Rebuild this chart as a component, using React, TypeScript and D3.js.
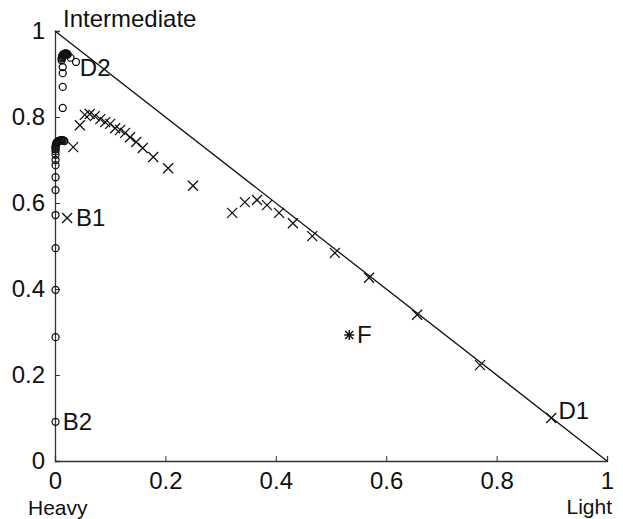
import React, { useEffect, useRef } from 'react'
import * as d3 from 'd3'

// points: [light, intermediate]
const circlePts: [number, number][] = [
  [0.001, 0.091], [0.001, 0.288], [0.001, 0.398], [0.001, 0.495], [0.001, 0.572],
  [0.001, 0.630], [0.001, 0.660], [0.001, 0.688], [0.001, 0.700], [0.001, 0.712],
  [0.001, 0.720], [0.001, 0.725], [0.001, 0.729], [0.001, 0.732], [0.002, 0.735],
  [0.002, 0.738], [0.003, 0.740], [0.004, 0.742], [0.005, 0.743], [0.006, 0.744],
  [0.008, 0.745], [0.009, 0.745], [0.011, 0.746], [0.012, 0.746], [0.014, 0.746],
  [0.016, 0.745], [0.017, 0.744],
  [0.014, 0.821], [0.014, 0.870], [0.014, 0.902], [0.014, 0.916],
  [0.012, 0.932], [0.012, 0.936], [0.013, 0.939], [0.013, 0.942], [0.014, 0.944],
  [0.015, 0.945], [0.016, 0.946], [0.017, 0.947], [0.018, 0.947], [0.019, 0.948],
  [0.020, 0.948], [0.021, 0.947], [0.022, 0.946], [0.023, 0.945],
  [0.028, 0.938], [0.038, 0.928],
]

const crossPts: [number, number][] = [
  [0.022, 0.565], [0.033, 0.730], [0.045, 0.781], [0.054, 0.805], [0.063, 0.807],
  [0.072, 0.802], [0.082, 0.795], [0.091, 0.788], [0.100, 0.784], [0.109, 0.774],
  [0.118, 0.770], [0.127, 0.763], [0.136, 0.753], [0.147, 0.742], [0.159, 0.728],
  [0.178, 0.707], [0.205, 0.681], [0.250, 0.640], [0.321, 0.577], [0.344, 0.602],
  [0.366, 0.607], [0.384, 0.595], [0.406, 0.577], [0.431, 0.553], [0.466, 0.523],
  [0.507, 0.484], [0.569, 0.426], [0.656, 0.340], [0.770, 0.223], [0.899, 0.100],
]

const starPt: [number, number] = [0.533, 0.293]

const pointLabels = ['D2', 'B1', 'B2', 'F', 'D1']
const labelPos: [number, number][] = [[0.045, 0.915], [0.038, 0.565], [0.014, 0.091], [0.547, 0.293], [0.912, 0.117]]

const tickVals = [0, 0.2, 0.4, 0.6, 0.8, 1]
const tickLabels = ['0', '0.2', '0.4', '0.6', '0.8', '1']

export default function App() {
  const ref = useRef<SVGSVGElement>(null)

  useEffect(() => {
    const width = 623
    const height = 519
    const margin = { top: 31, bottom: 58, left: 55, right: 16 }
    const font = '"Liberation Sans", Arial, sans-serif'
    const fs = 24

    const svg = d3.select(ref.current).attr('width', width).attr('height', height)
    svg.selectAll('*').remove()
    svg.append('rect').attr('width', width).attr('height', height).attr('fill', '#fff')

    const x = d3.scaleLinear().domain([0, 1]).range([margin.left, width - margin.right])
    const y = d3.scaleLinear().domain([0, 1]).range([height - margin.bottom, margin.top])

    // axes (matlab style, ticks inward)
    const gx = svg.append('g').attr('transform', `translate(0,${y(0)})`)
      .call(d3.axisBottom(x).tickValues(tickVals).tickSize(-5).tickFormat((d, i) => tickLabels[i]).tickPadding(11))
    const gy = svg.append('g').attr('transform', `translate(${x(0)},0)`)
      .call(d3.axisLeft(y).tickValues(tickVals).tickSize(-5).tickFormat((d, i) => tickLabels[i]).tickPadding(10))
    ;[gx, gy].forEach(g => {
      g.select('.domain').attr('stroke', '#333').attr('stroke-width', 1.3)
      g.selectAll('.tick line').attr('stroke', '#333')
      g.selectAll('.tick text').attr('fill', '#111').attr('font-size', fs).attr('font-family', font)
    })

    // hypotenuse
    svg.append('line')
      .attr('x1', x(0)).attr('y1', y(1)).attr('x2', x(1)).attr('y2', y(0))
      .attr('stroke', '#111').attr('stroke-width', 1.3)

    svg.append('g').selectAll('circle').data(circlePts).enter().append('circle')
      .attr('cx', d => x(d[0])).attr('cy', d => y(d[1])).attr('r', 3.5)
      .attr('fill', 'none').attr('stroke', '#111').attr('stroke-width', 1.3)

    const cs = 5
    svg.append('g').selectAll('path').data(crossPts).enter().append('path')
      .attr('d', d => {
        const px = x(d[0]), py = y(d[1])
        return `M${px - cs},${py - cs}L${px + cs},${py + cs}M${px - cs},${py + cs}L${px + cs},${py - cs}`
      })
      .attr('stroke', '#111').attr('stroke-width', 1.3).attr('fill', 'none')

    const sx = x(starPt[0]), sy = y(starPt[1])
    svg.append('path')
      .attr('d', `M${sx - 4},${sy - 4}L${sx + 4},${sy + 4}M${sx - 4},${sy + 4}L${sx + 4},${sy - 4}M${sx - 5},${sy}L${sx + 5},${sy}M${sx},${sy - 5}L${sx},${sy + 5}`)
      .attr('stroke', '#111').attr('stroke-width', 1.4)

    svg.append('g').selectAll('text').data(pointLabels).enter().append('text')
      .attr('x', (d, i) => x(labelPos[i][0])).attr('y', (d, i) => y(labelPos[i][1]))
      .attr('dy', '0.35em')
      .attr('font-size', fs).attr('font-family', font).attr('fill', '#111')
      .text(d => d)

    const axisTitle = (t: string, px: number, py: number, anchor: string, size: number) =>
      svg.append('text').attr('x', px).attr('y', py).attr('text-anchor', anchor)
        .attr('font-size', size).attr('font-family', font).attr('fill', '#111').text(t)
    axisTitle('Intermediate', x(0) + 8, 27, 'start', fs)
    axisTitle('Heavy', 28, 515, 'start', 21)
    axisTitle('Light', 612, 514, 'end', 21)
  }, [])

  return <svg ref={ref} style={{ position: 'absolute', left: 0, top: 0 }}></svg>
}
